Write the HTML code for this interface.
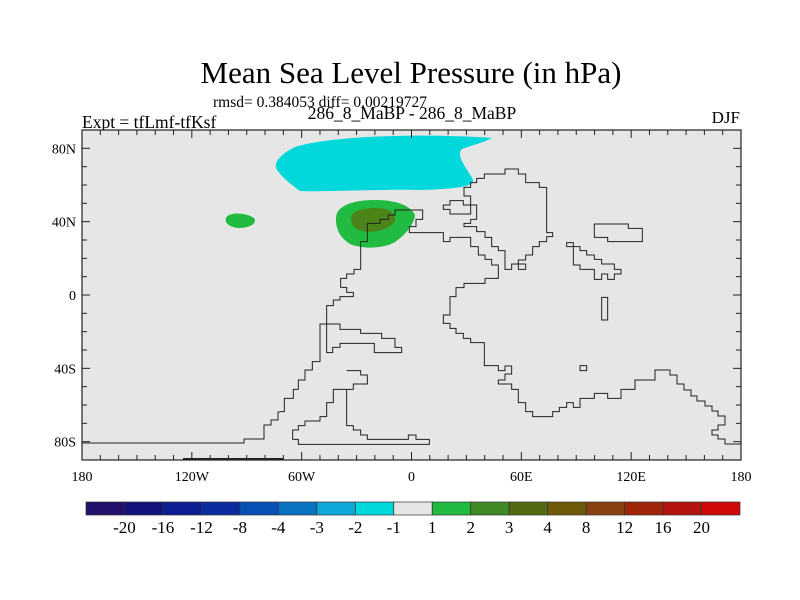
<!DOCTYPE html>
<html><head><meta charset="utf-8"><style>
body{margin:0;background:#fff;}
svg{display:block;font-family:"Liberation Serif",serif;}
</style></head><body>
<svg id="chart" width="800" height="600" viewBox="0 0 800 600" xmlns="http://www.w3.org/2000/svg">
<text x="411" y="83" font-size="31" text-anchor="middle">Mean Sea Level Pressure (in hPa)</text>
<text x="213" y="107" font-size="15.5">rmsd= 0.384053 diff= 0.00219727</text>
<text x="412" y="119" font-size="17.5" text-anchor="middle">286_8_MaBP - 286_8_MaBP</text>
<text x="82" y="128" font-size="17.5">Expt = tfLmf-tfKsf</text>
<text x="740" y="123" font-size="17" text-anchor="end">DJF</text>
<rect x="82" y="130" width="659" height="330" fill="#e6e6e6"/>
<path fill="#00d8dc" d="M295,147 C330,136 420,133 492,138 C485,142 470,146 462,149 C455,155 468,170 472,178 C478,186 460,189 420,190 C380,189 320,192 300,191 C292,185 280,176 276,168 C274,160 285,152 295,147Z"/>
<path fill="#20bb40" d="M226,218 C228,212 245,212 254,218 C258,224 248,228 240,228 C232,228 224,224 226,218Z"/>
<path fill="#20bb40" d="M336,218 C336,205 355,200 375,200 C395,200 410,205 415,215 C414,225 405,235 395,242 C385,248 365,250 350,244 C338,236 336,228 336,218Z"/>
<path fill="#557a14" opacity="0.85" d="M351,219 C351,211 362,208 376,208 C390,208 396,214 395,220 C393,227 380,232 368,232 C356,231 351,226 351,219Z"/>
<g fill="none" stroke="#222" stroke-width="1">
<path d="M82,443 L244,443 L244,439 L264,439 L264,425 L271,425 L271,420 L278,420 L278,412 L280,412"/>
<g transform="translate(280,160) scale(0.33333)">
<path vector-effect="non-scaling-stroke" d="M0,755 L13,755 L13,715 L40,715 L40,688 L55,688 L55,660 L75,660 L75,630 L97,630 L97,605 L120,605 L120,492 L180,492 L180,508 L242,508 L242,520 L305,520 L305,535 L345,535 L345,562 L365,562 L365,578 L283,578 L283,550 L180,550 L180,562 L158,562 L158,578 L140,578 L140,437 L160,437 L160,420 L180,420 L180,410 L220,410 L220,397 L200,397 L200,382 L182,382 L182,355 L200,355 L200,342 L222,342 L222,328 L242,328 L242,245 L262,245 L262,190 L300,190 L300,178 L325,178 L325,165 L345,165 L345,150 L428,150 L428,178 L408,178 L408,200 L388,200 L388,218 L490,218 L490,245 L510,245 L510,232 L572,232 L572,260 L595,260 L595,285 L615,285 L615,298 L635,298 L635,315 L655,315 L655,355 L615,355 L615,370 L552,370 L552,383 L528,383 L528,410 L510,410 L510,465 L490,465 L490,490 L510,490 L510,505 L528,505 L528,520 L550,520 L550,535 L572,535 L572,548 L613,548 L613,617 L655,617 L655,632 L675,632 L675,618 L695,618 L695,642 L675,642 L675,660 L655,660 L655,672 L695,672 L695,688 L715,688 L715,728 L737,728 L737,755 L758,755 L758,770 L818,770 L818,755 L838,755 L838,742 L860,742 L860,728 L880,728 L880,742 L900,742 L900,715 L943,715 L943,700 L983,700 L983,715 L1023,715 L1023,688 L1065,688 L1065,660 L1125,660 L1125,630 L1140,630"/>
<path vector-effect="non-scaling-stroke" d="M552,200 L590,200 L590,215 L615,215 L615,232 L635,232 L635,260 L655,260 L655,272 L675,272 L675,328 L695,328 L695,312 L715,312 L715,300 L737,300 L737,285 L758,285 L758,260 L778,260 L778,245 L800,245 L800,230 L818,230 L818,218 L800,218 L800,82 L778,82 L778,68 L737,68 L737,42 L715,42 L715,27 L675,27 L675,42 L613,42 L613,55 L590,55 L590,68 L572,68 L572,82 L552,82 L552,108 L572,108 L572,135 L590,135 L590,178 L572,178 L572,190 L552,190 Z"/>
<path vector-effect="non-scaling-stroke" d="M490,135 L510,135 L510,122 L550,122 L550,135 L572,135 L572,162 L510,162 L510,148 L490,148 Z"/>
<path vector-effect="non-scaling-stroke" d="M715,312 L737,312 L737,328 L715,328 Z"/>
<path vector-effect="non-scaling-stroke" d="M860,248 L880,248 L880,260 L900,260 L900,272 L920,272 L920,285 L943,285 L943,298 L965,298 L965,312 L1003,312 L1003,328 L1023,328 L1023,342 L1003,342 L1003,358 L983,358 L983,342 L965,342 L965,358 L943,358 L943,328 L900,328 L900,315 L880,315 L880,260 L860,260 Z"/>
<path vector-effect="non-scaling-stroke" d="M943,192 L1045,192 L1045,205 L1087,205 L1087,245 L983,245 L983,232 L943,232 Z"/>
<path vector-effect="non-scaling-stroke" d="M965,412 L983,412 L983,480 L965,480 Z"/>
<path vector-effect="non-scaling-stroke" d="M900,617 L920,617 L920,632 L900,632 Z"/>
<path vector-effect="non-scaling-stroke" d="M200,632 L242,632 L242,645 L262,645 L262,672 L220,672 L220,688 L200,688 L200,797 L220,797 L220,810 L242,810 L242,825 L262,825 L262,838 L385,838 L385,825 L408,825 L408,838 L448,838 L448,853 L55,853 L55,838 L38,838 L38,810 L55,810 L55,797 L75,797 L75,783 L120,783 L120,770 L140,770 L140,728 L160,728 L160,688 L200,688"/>
</g>
<path d="M655,370 L670,370 L670,375 L677,375 L677,384 L684,384 L684,390 L691,390 L691,396 L697,396 L697,401 L705,401 L705,406 L712,406 L712,411 L718,411 L718,416 L725,416 L725,425 L718,425 L718,430 L712,430 L712,435 L718,435 L718,439 L725,439 L725,444 L741,444"/>
<path stroke-width="2" d="M183,459 L283,459"/>
</g>
<g id="axes"></g>
<g id="cbar"></g>
<rect x="82" y="130" width="659" height="330" fill="none" stroke="#222" stroke-width="1.2"/>
<script>
const lonTicks=[-180,-120,-60,0,60,120,180];
const lonLabels=["180","120W","60W","0","60E","120E","180"];
const latTicks=[80,40,0,-40,-80];
const latLabels=["80N","40N","0","40S","80S"];
const cbLevels=["-20","-16","-12","-8","-4","-3","-2","-1","1","2","3","4","8","12","16","20"];
const cbColors=["#22106a","#12127e","#0c1e92","#0a2c9e","#0850b4","#0a74c4","#10a8d8","#00d8dc","#e6e6e6","#20bb40","#418a25","#526a12","#6e5a08","#884010","#a02408","#b41410","#d00808"];
const NS="http://www.w3.org/2000/svg";
const X0=82,X1=741,Y0=130,Y1=460;
const xs=l=>X0+(l+180)/360*(X1-X0);
const ys=l=>Y0+(90-l)/180*(Y1-Y0);
const ax=document.getElementById('axes');
function mk(t,a,p){const e=document.createElementNS(NS,t);for(const k in a)e.setAttribute(k,a[k]);p.appendChild(e);return e;}
for(let l=-170;l<180;l+=10){
  const maj=l%60===0;const len=maj?8:5;
  const t1=mk('line',{x1:xs(l),x2:xs(l),y1:Y0,y2:Y0+len,stroke:'#222'},ax);
  
  
  const t2=mk('line',{x1:xs(l),x2:xs(l),y1:Y1,y2:Y1-len,stroke:'#222'},ax);
  
  
}
for(let l=-80;l<=80;l+=10){
  const maj=l%40===0;const len=maj?8:5;
  const t1=mk('line',{x1:X0,x2:X0+len,y1:ys(l),y2:ys(l),stroke:'#222'},ax);
  
  
  const t2=mk('line',{x1:X1,x2:X1-len,y1:ys(l),y2:ys(l),stroke:'#222'},ax);
  
  
}
lonTicks.forEach((l,i)=>{
  const t=mk('text',{x:xs(l),y:481,'font-size':14,'text-anchor':'middle'},ax);
  
  
  t.textContent=lonLabels[i];
});
latTicks.forEach((l,i)=>{
  const t=mk('text',{x:X0-6,y:ys(l)+5,'font-size':14,'text-anchor':'end'},ax);
  
  
  t.textContent=latLabels[i];
});
const cb=document.getElementById('cbar');
const CX0=86,CX1=740,CY=502,CH=13,bw=(CX1-CX0)/cbColors.length;
cbColors.forEach((c,i)=>{
  const r=mk('rect',{x:CX0+i*bw,y:CY,width:bw,height:CH,fill:c,stroke:'#333','stroke-width':0.7},cb);
  
  
});
cbLevels.forEach((v,i)=>{
  const t=mk('text',{x:CX0+(i+1)*bw,y:533,'font-size':17,'text-anchor':'middle'},cb);
  
  
  t.textContent=v;
});
</script>
</svg>
</body></html>
